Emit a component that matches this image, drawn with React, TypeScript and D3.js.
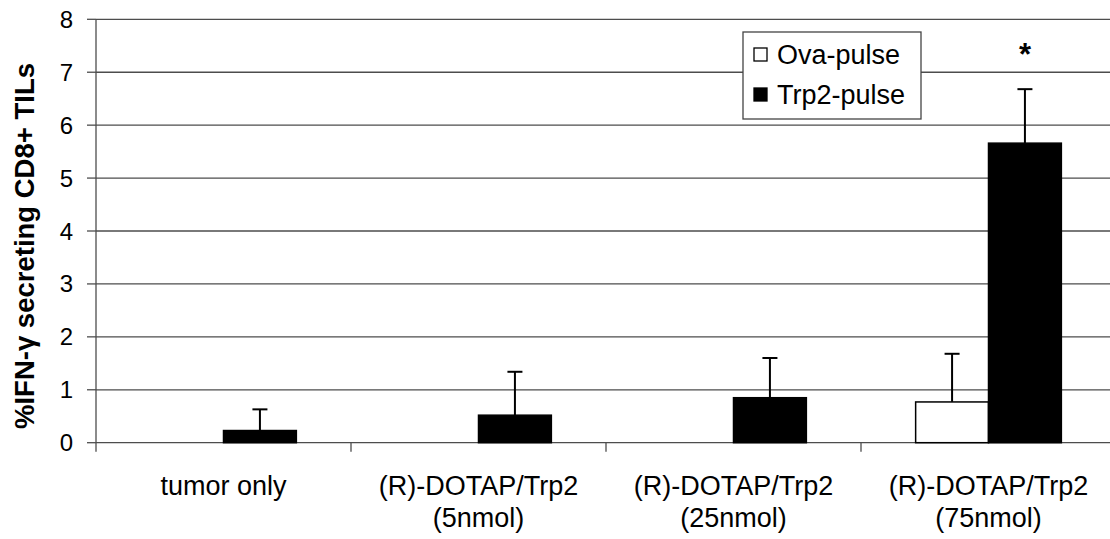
import React from "react";
import * as d3 from "d3";

const categories: string[][] = [
  ["tumor only"],
  ["(R)-DOTAP/Trp2", "(5nmol)"],
  ["(R)-DOTAP/Trp2", "(25nmol)"],
  ["(R)-DOTAP/Trp2", "(75nmol)"],
];
const seriesNames = ["Ova-pulse", "Trp2-pulse"];
const ovaValues = [0, 0, 0, 0.77];
const ovaErrors = [0, 0, 0, 0.91];
const trp2Values = [0.23, 0.52, 0.85, 5.66];
const trp2Errors = [0.4, 0.82, 0.75, 1.02];
const yTicks = [0, 1, 2, 3, 4, 5, 6, 7, 8];
const yLabel = "%IFN-\u03b3 secreting CD8+ TILs";
const starCategory = 3;

const W = 1110;
const H = 539;
const FONT = "'Liberation Sans', Arial, sans-serif";

export default function App() {
  const left = 96;
  const catStep = 255;
  const x = d3
    .scaleBand<number>()
    .domain(categories.map((_, i) => i))
    .range([left, left + catStep * categories.length])
    .paddingInner(0)
    .paddingOuter(0);
  const xs = d3
    .scaleBand<string>()
    .domain(seriesNames)
    .range([0, x.bandwidth()])
    .paddingInner(0)
    .paddingOuter(0.75);
  const y = d3.scaleLinear().domain([0, 8]).range([442.7, 19.3]);

  const series = [
    { name: seriesNames[0], values: ovaValues, errors: ovaErrors, fill: "#ffffff" },
    { name: seriesNames[1], values: trp2Values, errors: trp2Errors, fill: "#000000" },
  ];
  const capHalf = 7.5;
  const gridColor = "#4d4d4d";

  return (
    <svg
      width={W}
      height={H}
      style={{ position: "absolute", left: 0, top: 0, background: "#fff" }}
      fontFamily={FONT}
    >
      {/* gridlines */}
      {yTicks.map((t) => (
        <line
          key={"g" + t}
          x1={left}
          x2={W}
          y1={y(t)}
          y2={y(t)}
          stroke={gridColor}
          strokeWidth={1.3}
        />
      ))}
      {/* y axis */}
      <line x1={left} x2={left} y1={y(8)} y2={y(0)} stroke={gridColor} strokeWidth={1.3} />
      {yTicks.map((t) => (
        <g key={"t" + t}>
          <line x1={left - 9} x2={left} y1={y(t)} y2={y(t)} stroke={gridColor} strokeWidth={1.3} />
          <text
            x={73}
            y={y(t)}
            textAnchor="end"
            dominantBaseline="central"
            fontSize={24}
            fill="#000"
          >
            {t}
          </text>
        </g>
      ))}
      {/* x ticks */}
      {categories.map((_, i) => (
        <line
          key={"xt" + i}
          x1={x(i)!}
          x2={x(i)!}
          y1={y(0)}
          y2={y(0) + 9}
          stroke={gridColor}
          strokeWidth={1.3}
        />
      ))}
      {/* bars */}
      {series.map((s) =>
        s.values.map((v, i) => {
          if (v === 0) return null;
          const bx = x(i)! + xs(s.name)!;
          const bw = xs.bandwidth();
          const cx = bx + bw / 2;
          return (
            <g key={s.name + i}>
              <line
                x1={cx}
                x2={cx}
                y1={y(v)}
                y2={y(v + s.errors[i])}
                stroke="#000"
                strokeWidth={2}
              />
              <line
                x1={cx - capHalf}
                x2={cx + capHalf}
                y1={y(v + s.errors[i])}
                y2={y(v + s.errors[i])}
                stroke="#000"
                strokeWidth={2}
              />
              <rect
                x={bx}
                y={y(v)}
                width={bw}
                height={y(0) - y(v)}
                fill={s.fill}
                stroke="#000"
                strokeWidth={1.5}
              />
            </g>
          );
        })
      )}
      {/* significance star */}
      <text
        x={x(starCategory)! + xs(seriesNames[1])! + xs.bandwidth() / 2}
        y={65}
        textAnchor="middle"
        fontSize={31}
        fontWeight="bold"
      >
        *
      </text>
      {/* x labels */}
      {categories.map((lines, i) => (
        <text
          key={"xl" + i}
          x={x(i)! + x.bandwidth() / 2}
          y={495}
          textAnchor="middle"
          fontSize={27}
        >
          {lines.map((l, j) => (
            <tspan key={j} x={x(i)! + x.bandwidth() / 2} dy={j === 0 ? 0 : 32}>
              {l}
            </tspan>
          ))}
        </text>
      ))}
      {/* y title */}
      <text
        transform={`translate(34,246) rotate(-90)`}
        textAnchor="middle"
        fontSize={27.5}
        fontWeight="bold"
      >
        {yLabel}
      </text>
      {/* legend */}
      <g>
        <rect x={743} y={32} width={178} height={87} fill="#fff" stroke="#444" strokeWidth={1.3} />
        {series.map((s, j) => (
          <g key={"lg" + j}>
            <rect
              x={754}
              y={48 + j * 40}
              width={13}
              height={13}
              fill={s.fill}
              stroke="#000"
              strokeWidth={1.3}
            />
            <text x={777} y={64 + j * 40} fontSize={27}>
              {s.name}
            </text>
          </g>
        ))}
      </g>
    </svg>
  );
}
